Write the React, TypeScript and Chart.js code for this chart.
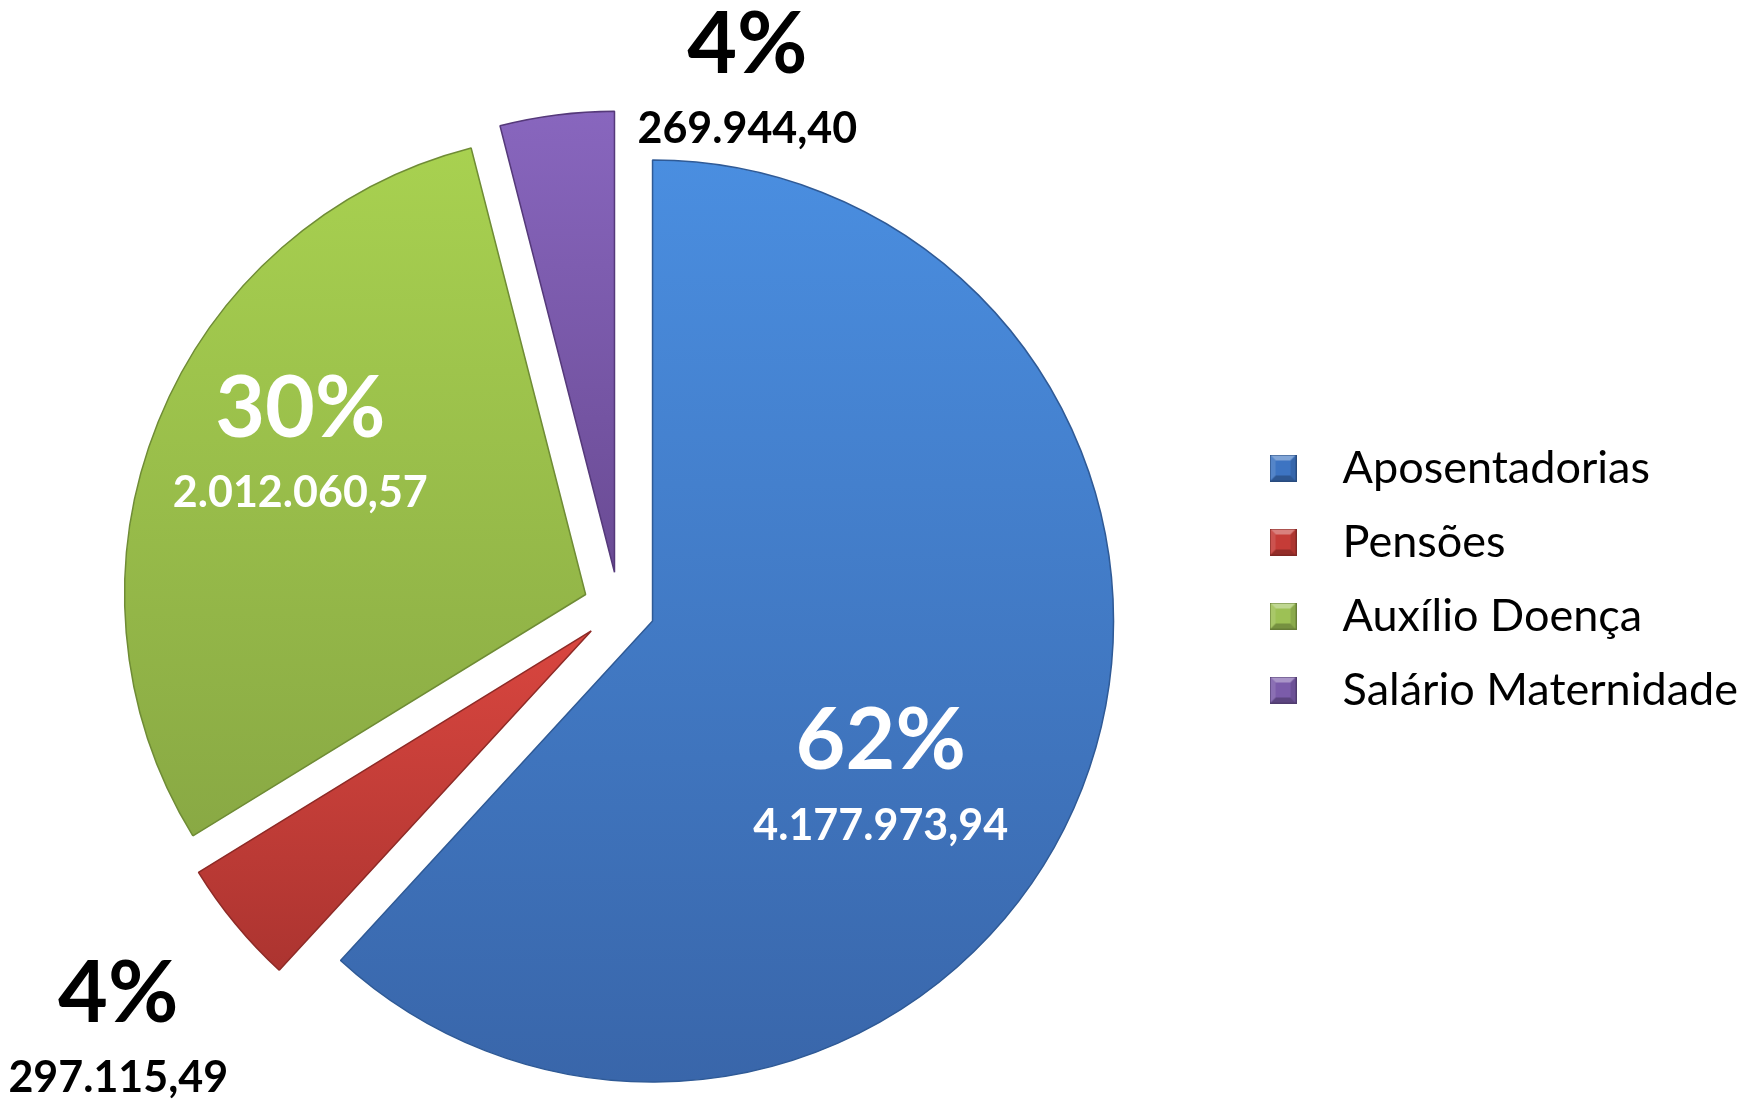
import React, { useEffect, useRef } from "react";
import { Chart, registerables } from "chart.js";

Chart.register(...registerables);

// ---------- data ----------
const categories = ["Aposentadorias", "Pensões", "Auxílio Doença", "Salário Maternidade"];
const values = [4177973.94, 297115.49, 2012060.57, 269944.4];

// ---------- styles ----------
const topColors = ["#4A8EE0", "#D9463F", "#A8D150", "#8866BE"];
const bottomColors = ["#3966AA", "#AC3430", "#89A944", "#6A4B94"];
const edgeColors = ["#2F5A96", "#8E2A26", "#6F8C35", "#55397A"];
const legendColors = ["#3D74C2", "#C53C37", "#9DC155", "#7B5CAA"];
const labelColors = ["#FFFFFF", "#000000", "#FFFFFF", "#000000"];
// label placement: fraction along the slice's angle, fraction of radius from slice apex
const labelAngleFrac = [0.562, 0.44, 0.547, 2.06];
const labelRadiusFrac = [0.605, 1.348, 0.695, 1.096];

const W = 1740;
const H = 1100;
const PIE_RADIUS = 461;
const EXPLODE = 36;
const PIE_CX = 619;
const FONT = "Lato, 'Open Sans', sans-serif";
const LEGEND_FONT_SIZE = 45;
const LEGEND_PAD = 29;
const LEGEND_BOX_SLOT = 74;
const LEGEND_EXTRA = 10; // Chart.js adds 10px to vertical legend width
const PAD_RIGHT = -8;
const PCT_FONT = 86;
const VAL_FONT = 43;
const LINE_GAP = 86;

const total = values.reduce((a, b) => a + b, 0);

function formatBR(v: number): string {
  const fixed = v.toFixed(2);
  const [intPart, dec] = fixed.split(".");
  const withDots = intPart.replace(/\B(?=(\d{3})+(?!\d))/g, ".");
  return withDots + "," + dec;
}

function sliceGradient(context: any) {
  const chart = context.chart;
  const area = chart.chartArea;
  const i = context.dataIndex;
  if (!area || i === undefined) return topColors[i ?? 0];
  const cx = (area.left + area.right) / 2;
  const cy = (area.top + area.bottom) / 2;
  let cum = 0;
  for (let j = 0; j < i; j++) cum += values[j];
  const a0 = -Math.PI / 2 + (2 * Math.PI * cum) / total;
  const a1 = a0 + (2 * Math.PI * values[i]) / total;
  const mid = (a0 + a1) / 2;
  const ay = cy + Math.sin(mid) * EXPLODE;
  const ys = [ay, ay + Math.sin(a0) * PIE_RADIUS, ay + Math.sin(a1) * PIE_RADIUS];
  if (a0 <= Math.PI / 2 && a1 >= Math.PI / 2) ys.push(ay + PIE_RADIUS);
  const top = Math.min(...ys);
  const bottom = Math.max(...ys);
  const g = chart.ctx.createLinearGradient(0, top, 0, bottom);
  g.addColorStop(0, topColors[i]);
  g.addColorStop(1, bottomColors[i]);
  return g;
}

function shade(hex: string, amt: number): string {
  const n = parseInt(hex.slice(1), 16);
  let r = (n >> 16) & 255, g = (n >> 8) & 255, b = n & 255;
  const t = amt < 0 ? 0 : 255;
  const p = Math.abs(amt);
  r = Math.round(r + (t - r) * p);
  g = Math.round(g + (t - g) * p);
  b = Math.round(b + (t - b) * p);
  return `rgb(${r},${g},${b})`;
}

function makeSquare(color: string): HTMLCanvasElement {
  const s = 27;
  const b = 6;
  const c = document.createElement("canvas");
  c.width = s;
  c.height = s;
  const x = c.getContext("2d")!;
  x.fillStyle = color;
  x.fillRect(0, 0, s, s);
  const poly = (pts: number[][], fill: string) => {
    x.beginPath();
    x.moveTo(pts[0][0], pts[0][1]);
    for (let k = 1; k < pts.length; k++) x.lineTo(pts[k][0], pts[k][1]);
    x.closePath();
    x.fillStyle = fill;
    x.fill();
  };
  poly([[0, 0], [s, 0], [s - b, b], [b, b]], shade(color, 0.35));
  poly([[0, s], [s, s], [s - b, s - b], [b, s - b]], shade(color, -0.25));
  poly([[0, 0], [b, b], [b, s - b], [0, s]], shade(color, 0.12));
  poly([[s, 0], [s - b, b], [s - b, s - b], [s, s]], shade(color, -0.12));
  x.strokeStyle = shade(color, -0.35);
  x.lineWidth = 1;
  x.strokeRect(0.5, 0.5, s - 1, s - 1);
  return c;
}

const explodePlugin = {
  id: "explodeSlices",
  afterDatasetUpdate(chart: any, args: any) {
    const meta = args.meta || chart.getDatasetMeta(args.index);
    meta.data.forEach((arc: any) => {
      const mid = (arc.startAngle + arc.endAngle) / 2;
      arc.x += Math.cos(mid) * EXPLODE;
      arc.y += Math.sin(mid) * EXPLODE;
    });
  },
};

const labelPlugin = {
  id: "sliceLabels",
  afterDatasetsDraw(chart: any) {
    const meta = chart.getDatasetMeta(0);
    const ctx = chart.ctx;
    ctx.save();
    ctx.textAlign = "center";
    ctx.textBaseline = "alphabetic";
    meta.data.forEach((arc: any, i: number) => {
      const a = arc.startAngle + labelAngleFrac[i] * (arc.endAngle - arc.startAngle);
      const r = labelRadiusFrac[i] * arc.outerRadius;
      const px = arc.x + Math.cos(a) * r;
      const py = arc.y + Math.sin(a) * r;
      const pct = Math.round((values[i] / total) * 100) + "%";
      ctx.fillStyle = labelColors[i];
      ctx.font = `bold ${PCT_FONT}px ${FONT}`;
      ctx.fillText(pct, px, py - LINE_GAP / 2 + PCT_FONT * 0.358);
      ctx.font = `bold ${VAL_FONT}px ${FONT}`;
      ctx.fillText(formatBR(values[i]), px, py + LINE_GAP / 2 + VAL_FONT * 0.358);
    });
    ctx.restore();
  },
};

export default function App() {
  const ref = useRef<HTMLCanvasElement | null>(null);

  useEffect(() => {
    const canvas = ref.current;
    if (!canvas) return;
    const squares = legendColors.map((c) => makeSquare(c));

    // measure legend width to place the pie's centre
    const mctx = canvas.getContext("2d")!;
    mctx.font = `${LEGEND_FONT_SIZE}px ${FONT}`;
    const maxText = Math.max(...categories.map((t) => mctx.measureText(t).width));
    const legendWidth = LEGEND_PAD + LEGEND_BOX_SLOT + LEGEND_FONT_SIZE / 2 + maxText + LEGEND_EXTRA;
    const padLeft = 2 * PIE_CX - (W - PAD_RIGHT - legendWidth);

    const chart = new Chart(canvas, {
      type: "pie",
      data: {
        labels: categories,
        datasets: [
          {
            data: values,
            backgroundColor: sliceGradient as any,
            borderColor: edgeColors,
            borderWidth: 1.5,
            clip: false as any,
          },
        ],
      },
      options: {
        responsive: false,
        animation: false,
        devicePixelRatio: 1,
        radius: PIE_RADIUS,
        layout: { padding: { left: padLeft, right: PAD_RIGHT, top: 416.5, bottom: 300.5 } },
        plugins: {
          tooltip: { enabled: false },
          legend: {
            display: true,
            position: "right",
            align: "start",
            labels: {
              usePointStyle: true,
              pointStyleWidth: LEGEND_BOX_SLOT,
              padding: LEGEND_PAD,
              color: "#000000",
              font: { family: FONT, size: LEGEND_FONT_SIZE },
              generateLabels: (ch: any) => {
                const base = (Chart as any).overrides.pie.plugins.legend.labels.generateLabels(ch);
                return base.map((it: any, i: number) => ({ ...it, pointStyle: squares[i] }));
              },
            },
          },
        },
      } as any,
      plugins: [explodePlugin, labelPlugin],
    });
    return () => chart.destroy();
  }, []);

  return (
    <div style={{ position: "absolute", left: 0, top: 0, width: W, height: H, background: "#FFFFFF" }}>
      <canvas ref={ref} width={W} height={H} style={{ display: "block" }} />
    </div>
  );
}
